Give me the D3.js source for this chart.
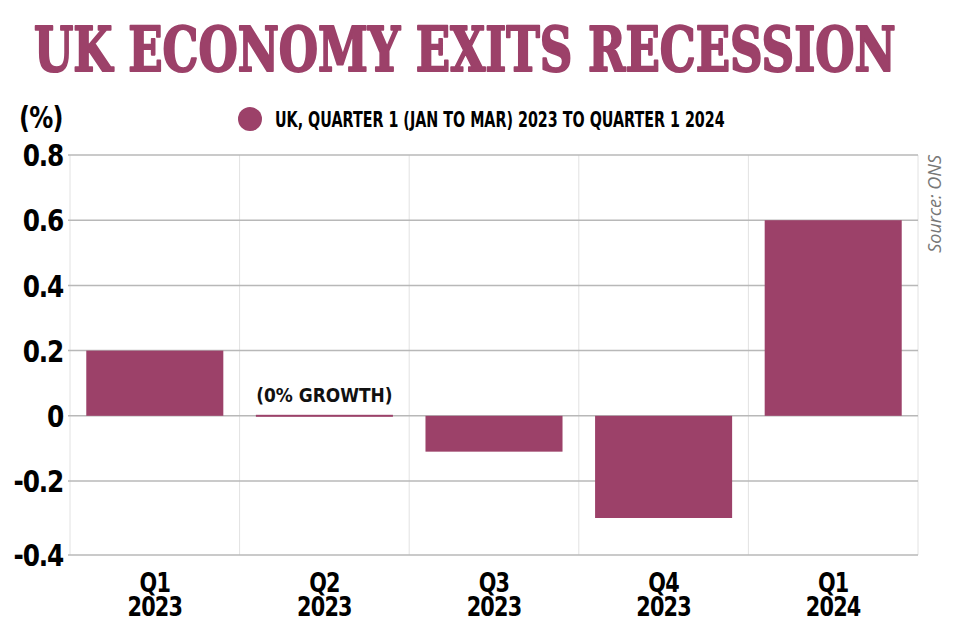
<!DOCTYPE html>
<html>
<head>
<meta charset="utf-8">
<script src="https://cdn.jsdelivr.net/npm/d3@7"></script>
<style>
  html, body { margin: 0; padding: 0; background: #fff; }
  svg { display: block; }
  .cond { font-family: 'DejaVu Sans', sans-serif; font-weight: bold; }
  .slab { font-family: 'DejaVu Serif', serif; font-weight: bold; }
</style>
</head>
<body>
<svg id="chart" width="960" height="640"></svg>
<script>
const categories = ["Q1|2023", "Q2|2023", "Q3|2023", "Q4|2023", "Q1|2024"];
const values = [0.2, 0.0, -0.11, -0.3, 0.6];
const yTicks = [-0.4, -0.2, 0, 0.2, 0.4, 0.6, 0.8];
const yTickLabels = ["-0.4", "-0.2", "0", "0.2", "0.4", "0.6", "0.8"];
const title = "UK ECONOMY EXITS RECESSION";
const legendLabel = "UK, QUARTER 1 (JAN TO MAR) 2023 TO QUARTER 1 2024";
const unitLabel = "(%)";
const annotation = "(0% GROWTH)";
const source = "Source:  ONS";

(function () {
const color = "#9c4169";
const SX = 0.8; // horizontal condensing factor for sans labels

const svg = d3.select("#chart");
const pLeft = 70, pRight = 918, pTop = 155, pBottom = 555;

const x = d3.scaleBand().domain(categories).range([pLeft, pRight]).paddingInner(0.192).paddingOuter(0.096);
const y = d3.scaleLinear().domain([-0.4, -0.2, 0.8]).range([pBottom, 481, pTop]);

// vertical grid lines (cell boundaries)
const bounds = d3.range(categories.length + 1).map(i => pLeft + i * (pRight - pLeft) / categories.length);
svg.append("g").selectAll("line").data(bounds).join("line")
  .attr("x1", d => d).attr("x2", d => d)
  .attr("y1", pTop).attr("y2", pBottom)
  .attr("stroke", "#e2e2e2").attr("stroke-width", 1);

// horizontal grid lines
svg.append("g").selectAll("line").data(yTicks).join("line")
  .attr("x1", pLeft - 2).attr("x2", pRight)
  .attr("y1", d => y(d)).attr("y2", d => y(d))
  .attr("stroke", "#b8b8b8").attr("stroke-width", 1.5);

// y labels
svg.append("g").attr("transform", `scale(${SX},1)`)
  .selectAll("text").data(yTicks).join("text")
  .attr("class", "cond")
  .attr("x", 63 / SX).attr("y", d => y(d))
  .attr("dy", "0.36em")
  .attr("text-anchor", "end")
  .attr("font-size", 31).attr("fill", "#000")
  .attr("letter-spacing", "-1.5")
  .text((d, i) => yTickLabels[i]);

// bars
svg.append("g").selectAll("rect").data(values).join("rect")
  .attr("x", (d, i) => x(categories[i]))
  .attr("width", x.bandwidth())
  .attr("y", d => d >= 0 ? y(d) - (d === 0 ? 1 : 0) : y(0))
  .attr("height", d => Math.max(2, Math.abs(y(d) - y(0))))
  .attr("fill", color);

// x labels
const xl = svg.append("g").attr("transform", `scale(${SX},1)`)
  .selectAll("text").data(categories).join("text")
  .attr("class", "cond")
  .attr("text-anchor", "middle")
  .attr("font-size", 26).attr("fill", "#000")
  .attr("letter-spacing", "-1");
xl.append("tspan").attr("x", d => (x(d) + x.bandwidth() / 2) / SX).attr("y", 592).text(d => d.split("|")[0]);
xl.append("tspan").attr("x", d => (x(d) + x.bandwidth() / 2) / SX).attr("y", 616).text(d => d.split("|")[1]);

// annotation
const ax = x(categories[1]) + x.bandwidth() / 2;
svg.append("text")
  .attr("class", "cond")
  .attr("transform", `translate(${ax},402) scale(0.85,1)`)
  .attr("text-anchor", "middle")
  .attr("font-size", 20).attr("fill", "#111")
  .text(annotation);

// title (fit to width)
const t = svg.append("text")
  .attr("class", "slab")
  .attr("font-size", 62).attr("fill", color)
  .attr("stroke", color).attr("stroke-width", 2.2).attr("stroke-linejoin", "round")
  .text(title);
const tw = t.node().getComputedTextLength();
t.attr("transform", `translate(34,71) scale(${862 / tw},1)`);

// unit label
svg.append("text")
  .attr("class", "cond")
  .attr("transform", `translate(19,128) scale(${SX},1)`)
  .attr("font-size", 30).attr("fill", "#000")
  .attr("letter-spacing", "-1")
  .text(unitLabel);

// legend
svg.append("circle").attr("cx", 250).attr("cy", 119).attr("r", 12).attr("fill", color);
const lg = svg.append("text")
  .attr("class", "cond")
  .attr("font-size", 22).attr("fill", "#000")
  .text(legendLabel);
const lw = lg.node().getComputedTextLength();
lg.attr("transform", `translate(275,127) scale(${450 / lw},1)`);

// source
svg.append("text")
  .attr("transform", "translate(941,155) rotate(-90)")
  .attr("text-anchor", "end")
  .attr("font-family", "'Open Sans', sans-serif").attr("font-style", "italic")
  .attr("font-size", 18).attr("fill", "#777")
  .text(source);
})();
</script>
</body>
</html>
